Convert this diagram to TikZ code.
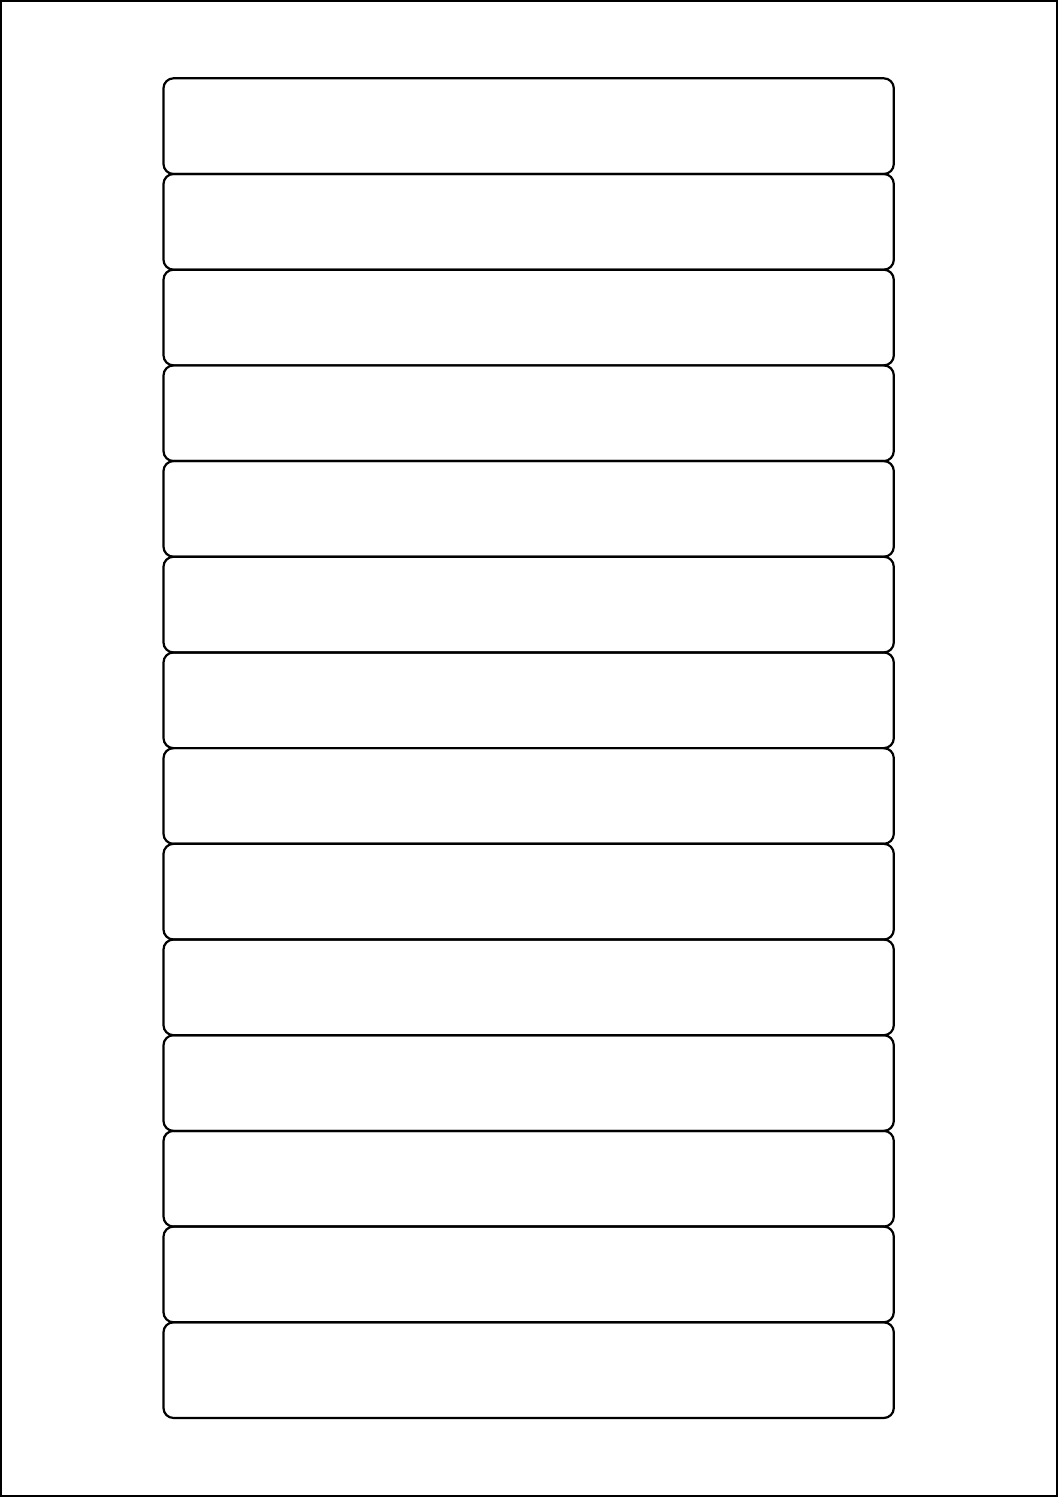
\documentclass[tikz,border=0pt]{standalone}
\begin{document}
\begin{tikzpicture}[x=1pt,y=-1pt,
  labelbox/.style={draw=black,line width=2.2pt,rounded corners=10pt}]
\useasboundingbox (0,0) rectangle (1058,1497);
\draw[line width=1.6pt] (0.8,0.8) rectangle (1057.2,1496.2);
\foreach \i in {0,...,13}{
  \pgfmathsetmacro{\ya}{78.3+95.69*\i}
  \pgfmathsetmacro{\yb}{78.3+95.69*(\i+1)}
  \draw[labelbox] (163.5,\ya) rectangle (893.8,\yb);
}
\end{tikzpicture}
\end{document}
